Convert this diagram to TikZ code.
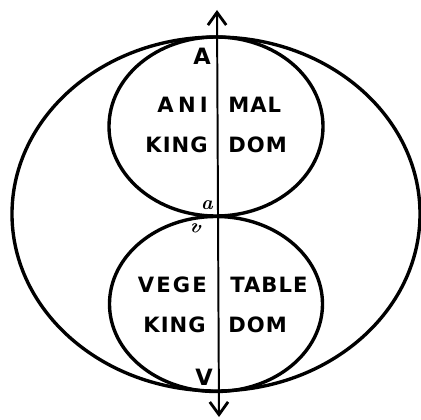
\documentclass[tikz,border=0pt]{standalone}
\usepackage{fontspec}
\newfontfamily\kingfont[LetterSpace=5]{DejaVu Sans}
\usetikzlibrary{positioning,arrows.meta}
\tikzset{
  orbit/.style={line width=2.4pt},
  axis/.style={line width=1.4pt, {Straight Barb[length=9pt,width=13pt,line width=2pt]}-{Straight Barb[length=9pt,width=13pt,line width=2pt]}},
  word/.style={inner sep=0pt, font=\kingfont\bfseries\fontsize{15}{15}\selectfont},
  pole/.style={inner sep=0pt, font=\kingfont\bfseries\fontsize{16}{16}\selectfont},
  tag/.style={inner sep=0pt, font=\bfseries\itshape\fontsize{14}{14}\selectfont}
}
\begin{document}
\begin{tikzpicture}[x=0.025cm, y=-0.025cm]
\useasboundingbox (0,0) rectangle (421,420);
\draw[orbit] (216,214) ellipse [x radius=204, y radius=177];
\draw[orbit] (216,126.5) ellipse [x radius=107, y radius=89.5];
\draw[orbit] (216,304) ellipse [x radius=106.5, y radius=87.5];
\coordinate (top) at (217,10);
\coordinate (bot) at (219,417);
\draw[axis] (top) -- (bot);
\node[word, anchor=base east] (ani) at (208,112) {A\kern3pt N\kern3pt I};
\node[word, anchor=base west] (mal) at (228,112) {MAL};
\node[word, anchor=base east] (kingA) at (208,152) {KING};
\node[word, anchor=base west] (domA) at (228,152) {DOM};
\node[word, anchor=base east] (vege) at (207,292) {V\kern1.5pt E\kern1.5pt G\kern1.5pt E};
\node[word, anchor=base west] (table) at (230,292) {TABLE};
\node[word, anchor=base east] (kingV) at (206,332) {KING};
\node[word, anchor=base west] (domV) at (228,332) {DOM};
\node[pole] (A) at (202,56) {A};
\node[pole] (V) at (204,377) {V};
\node[tag] (a) at (207,205) {a};
\node[tag, rotate=-20] (v) at (195,228) {v};
\end{tikzpicture}
\end{document}
